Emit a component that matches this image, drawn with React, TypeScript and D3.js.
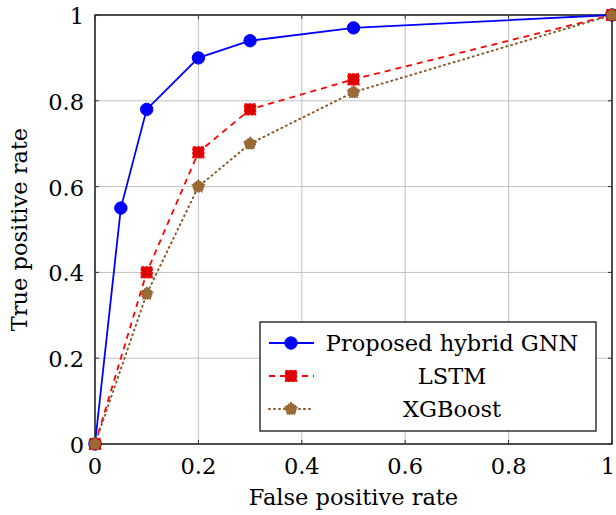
import React from 'react';
import * as d3 from 'd3';

// ROC points
const fprGnn = [0, 0.05, 0.1, 0.2, 0.3, 0.5, 1];
const tprGnn = [0, 0.55, 0.78, 0.9, 0.94, 0.97, 1];
const fprLstm = [0, 0.1, 0.2, 0.3, 0.5, 1];
const tprLstm = [0, 0.4, 0.68, 0.78, 0.85, 1];
const fprXgb = [0, 0.1, 0.2, 0.3, 0.5, 1];
const tprXgb = [0, 0.35, 0.6, 0.7, 0.82, 1];
const xTicks = [0, 0.2, 0.4, 0.6, 0.8, 1];
const yTicks = [0, 0.2, 0.4, 0.6, 0.8, 1];
const seriesNames = ['Proposed hybrid GNN', 'LSTM', 'XGBoost'];

const W = 616, H = 515;
const left = 95, right = 612, top = 15, bottom = 444;
const font = '"DejaVu Serif", serif';
const fs = 22.5;

const x = d3.scaleLinear().domain([0, 1]).range([left, right]);
const y = d3.scaleLinear().domain([0, 1]).range([bottom, top]);

type Pt = [number, number];
const zip = (a: number[], b: number[]): Pt[] => a.map((v, i) => [v, b[i]]);

const line = d3.line<Pt>().x(d => x(d[0])).y(d => y(d[1]));

function pentagon(cx: number, cy: number, r: number) {
  const pts = d3.range(5).map(i => {
    const a = -Math.PI / 2 + (i * 2 * Math.PI) / 5;
    return [cx + r * Math.cos(a), cy + r * Math.sin(a)].join(',');
  });
  return pts.join(' ');
}

const series = [
  { name: seriesNames[0], data: zip(fprGnn, tprGnn), color: '#0000ff', dash: undefined, marker: 'circle' },
  { name: seriesNames[1], data: zip(fprLstm, tprLstm), color: '#ff0000', dash: '6,5', marker: 'square' },
  { name: seriesNames[2], data: zip(fprXgb, tprXgb), color: '#8b5a2b', dash: '1,4', marker: 'pentagon' },
];

function Marker({ kind, cx, cy, color }: { kind: string; cx: number; cy: number; color: string }) {
  if (kind === 'circle') return <circle cx={cx} cy={cy} r={6.2} fill={color} stroke={color} />;
  if (kind === 'square')
    return <rect x={cx - 5.5} y={cy - 5.5} width={11} height={11} fill="#dd0000" stroke="#ff0000" strokeWidth={1.2} strokeDasharray="3,1" />;
  return <polygon points={pentagon(cx, cy, 6.5)} fill="#9b6a35" stroke="#7a5020" strokeWidth={1.2} strokeDasharray="1,1.5" />;
}

export default function App() {
  const legX = 260, legY = 322, legW = 336, legH = 109;
  const rowY = [343, 376, 409];
  return (
    <div style={{ position: 'absolute', left: 0, top: 0 }}>
      <svg width={W} height={H} style={{ display: 'block', background: '#fff' }}>
        {/* grid */}
        {xTicks.map(t => (
          <line key={'gx' + t} x1={x(t)} x2={x(t)} y1={top} y2={bottom} stroke="#c0c0c0" strokeWidth={1} />
        ))}
        {yTicks.map(t => (
          <line key={'gy' + t} x1={left} x2={right} y1={y(t)} y2={y(t)} stroke="#c0c0c0" strokeWidth={1} />
        ))}
        {/* frame */}
        <rect x={left} y={top} width={right - left} height={bottom - top} fill="none" stroke="#000" strokeWidth={1.3} />
        {/* ticks */}
        {xTicks.map(t => (
          <g key={'tx' + t}>
            <line x1={x(t)} x2={x(t)} y1={bottom} y2={bottom - 4} stroke="#333" />
            <line x1={x(t)} x2={x(t)} y1={top} y2={top + 4} stroke="#333" />
            <text x={t === 1 ? x(t) - 4 : x(t)} y={474} textAnchor="middle" fontFamily={font} fontSize={fs}>{String(t)}</text>
          </g>
        ))}
        {yTicks.map(t => (
          <g key={'ty' + t}>
            <line x1={left} x2={left + 4} y1={y(t)} y2={y(t)} stroke="#333" />
            <line x1={right} x2={right - 4} y1={y(t)} y2={y(t)} stroke="#333" />
            <text x={84} y={y(t) + 9} textAnchor="end" fontFamily={font} fontSize={fs}>{String(t)}</text>
          </g>
        ))}
        {/* axis labels */}
        <text x={(left + right) / 2} y={505} textAnchor="middle" fontFamily={font} fontSize={fs}>False positive rate</text>
        <text transform={`translate(27,${(top + bottom) / 2}) rotate(-90)`} textAnchor="middle" fontFamily={font} fontSize={fs}>True positive rate</text>
        {/* series */}
        {series.map(s => (
          <g key={s.name}>
            <path d={line(s.data) || ''} fill="none" stroke={s.color} strokeWidth={s.marker === 'pentagon' ? 2 : 1.8} strokeDasharray={s.dash} strokeLinecap={s.marker === 'pentagon' ? 'round' : 'butt'} />
            {s.data.map((d, i) => (
              <Marker key={i} kind={s.marker} cx={x(d[0])} cy={y(d[1])} color={s.color} />
            ))}
          </g>
        ))}
        {/* legend */}
        <rect x={legX} y={legY} width={legW} height={legH} fill="#fff" stroke="#000" strokeWidth={1.2} />
        {series.map((s, i) => (
          <g key={'leg' + s.name}>
            <line x1={269} x2={314} y1={rowY[i]} y2={rowY[i]} stroke={s.color} strokeWidth={s.marker === 'pentagon' ? 2 : 1.8} strokeDasharray={s.dash} strokeLinecap={s.marker === 'pentagon' ? 'round' : 'butt'} />
            <Marker kind={s.marker} cx={291} cy={rowY[i]} color={s.color} />
            <text x={452} y={rowY[i] + 8} textAnchor="middle" fontFamily={font} fontSize={fs}>{s.name}</text>
          </g>
        ))}
      </svg>
    </div>
  );
}
